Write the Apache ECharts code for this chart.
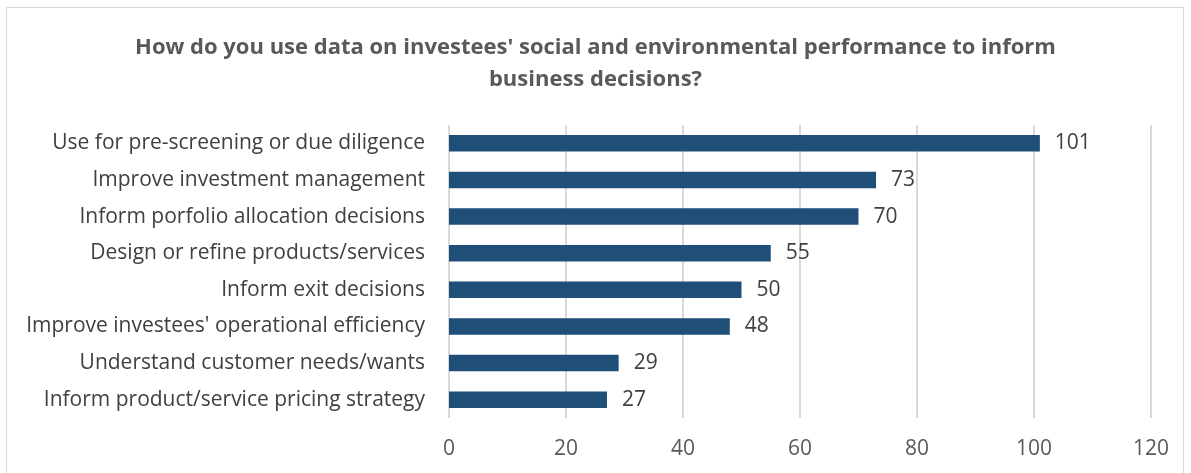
<!DOCTYPE html>
<html>
<head>
<meta charset="utf-8">
<script src="https://cdn.jsdelivr.net/npm/echarts@6/dist/echarts.min.js"></script>
<style>
  html, body { margin: 0; padding: 0; background: #fff; }
  #frame { position: absolute; left: 6px; top: 7px; width: 1178px; height: 480px; border: 1px solid #d9d9d9; box-sizing: border-box; }
  #chart { width: 1191px; height: 473px; }
</style>
</head>
<body>
<div id="frame"></div>
<div id="chart"></div>
<script>
const titleText = "How do you use data on investees' social and environmental performance to inform\nbusiness decisions?";
const categories = [
  "Use for pre-screening or due diligence",
  "Improve investment management",
  "Inform porfolio allocation decisions",
  "Design or refine products/services",
  "Inform exit decisions",
  "Improve investees' operational efficiency",
  "Understand customer needs/wants",
  "Inform product/service pricing strategy"
];
const values = [101, 73, 70, 55, 50, 48, 29, 27];
const xTicks = [0, 20, 40, 60, 80, 100, 120];

const FONT = "'Open Sans'";
const chart = echarts.init(document.getElementById('chart'), null, { renderer: 'canvas' });
chart.setOption({
  animation: false,
  title: {
    text: titleText,
    left: 'center',
    top: 27,
    textStyle: { fontFamily: FONT, fontSize: 22, fontWeight: 'bold', color: '#595959', lineHeight: 32 }
  },
  grid: { left: 449, right: 40, top: 125, bottom: 55, containLabel: false },
  xAxis: {
    type: 'value',
    min: xTicks[0],
    max: xTicks[xTicks.length - 1],
    interval: 20,
    axisLine: { show: false },
    axisTick: { show: false },
    splitLine: { lineStyle: { color: '#d9d9d9', width: 2 } },
    axisLabel: { fontFamily: FONT, fontSize: 21, color: '#595959', margin: 21 }
  },
  yAxis: {
    type: 'category',
    data: categories,
    inverse: true,
    axisLine: { show: false },
    axisTick: { show: false },
    axisLabel: { fontFamily: FONT, fontSize: 21, color: '#404040', margin: 24 }
  },
  series: [{
    type: 'bar',
    data: values,
    barCategoryGap: '55%',
    itemStyle: { color: '#1f4e79' },
    label: {
      show: true,
      position: 'right',
      distance: 15,
      fontFamily: FONT,
      fontSize: 21,
      color: '#404040'
    }
  }]
});
</script>
</body>
</html>
